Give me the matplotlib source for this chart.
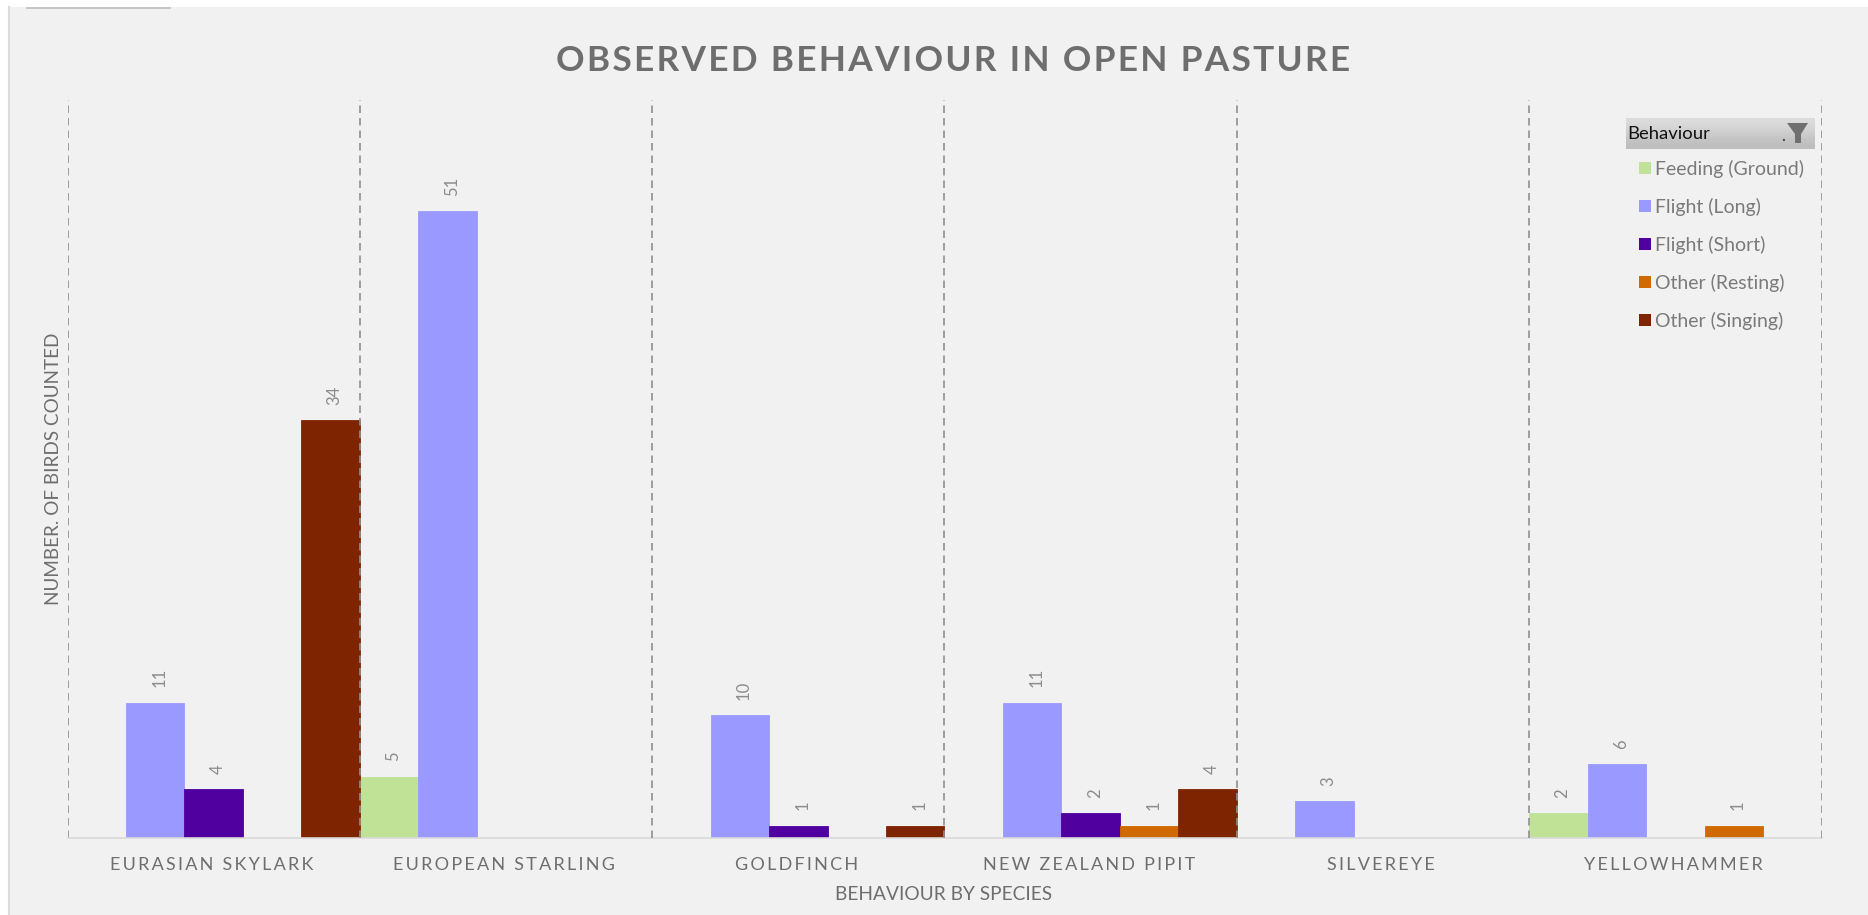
import matplotlib
matplotlib.use("Agg")
import matplotlib.pyplot as plt
from matplotlib.patches import Rectangle, Polygon
from matplotlib.transforms import ScaledTranslation

W, H = 1868, 915
SPECIES = ["EURASIAN SKYLARK", "EUROPEAN STARLING", "GOLDFINCH",
           "NEW ZEALAND PIPIT", "SILVEREYE", "YELLOWHAMMER"]
BEHAVIOURS = ["Feeding (Ground)", "Flight (Long)", "Flight (Short)",
              "Other (Resting)", "Other (Singing)"]
COLORS = ["#bfe296", "#9999ff", "#4f009f", "#d06a00", "#7e2500"]
# one list per behaviour, None = not observed
FEEDING = [None, 5, None, None, None, 2]
FLIGHT_LONG = [11, 51, 10, 11, 3, 6]
FLIGHT_SHORT = [4, None, 1, 2, None, None]
RESTING = [None, None, None, 1, None, 1]
SINGING = [34, None, 1, 4, None, None]
SERIES = [FEEDING, FLIGHT_LONG, FLIGHT_SHORT, RESTING, SINGING]

FONT = ["Lato", "DejaVu Sans"]
GREY = "#6e6e6e"
plt.rcParams["font.family"] = FONT


def spaced(s, gap="\u200a"):
    # matplotlib has no letter spacing, so pad with hair spaces
    return gap.join(s)


def px(x, y):
    return x / W, 1 - y / H


fig = plt.figure(figsize=(W / 100, H / 100), dpi=100, facecolor="white")

# panel behind the chart
fig.add_artist(Rectangle(px(9, H), (W - 9) / W, (H - 7) / H, transform=fig.transFigure,
                         fc="#f1f1f1", ec="none", zorder=-5))
fig.add_artist(plt.Line2D([9 / W, 9 / W], [0, 1 - 7 / H], color="#dcdcdc", lw=1.5, zorder=-4))
fig.add_artist(plt.Line2D([27 / W, 170 / W], [1 - 7.5 / H] * 2, color="#bdbdbd", lw=1.2, zorder=-4))

ax = fig.add_axes([67.5 / W, 1 - 838 / H, (1821.5 - 67.5) / W, (838 - 100.3) / H])
ax.patch.set_alpha(0)
ax.set_xlim(-0.5, 5.5)
ax.set_ylim(0, 60)

for k in range(7):
    ax.axvline(k - 0.5, color="#8f8f8f", lw=1.2, ls=(0, (4.5, 3)), zorder=3 if k else 1)

bar_w = 0.2
for i, (vals, col) in enumerate(zip(SERIES, COLORS)):
    for g, v in enumerate(vals):
        if v is None:
            continue
        x = g - 0.5 + bar_w * (i + 0.5)
        ax.bar(x, v, bar_w, color=col, edgecolor=col, linewidth=0.6, zorder=2)
        ax.annotate(str(v), (x, v), xytext=(3, 11), textcoords="offset points",
                    rotation=90, ha="center", va="bottom", fontsize=12, color="#8c8c8c")

for s in ["top", "left", "right"]:
    ax.spines[s].set_visible(False)
ax.spines["bottom"].set_color("#d9d9d9")
ax.spines["bottom"].set_linewidth(1.2)
ax.set_yticks([])
ax.set_xticks(range(6))
ax.set_xticklabels([spaced(s, "\u200a\u200a") for s in SPECIES], fontsize=13, color=GREY)
ax.tick_params(axis="x", length=0, pad=14)
nudge = ScaledTranslation(-2 / 100, 0, fig.dpi_scale_trans)
for lab in ax.get_xticklabels():
    lab.set_transform(lab.get_transform() + nudge)

fig.text(944 / W, 1 - 895 / H, "BEHAVIOUR BY SPECIES", ha="center", va="center",
         fontsize=13.8, color=GREY)
fig.text(54 / W, 1 - 469 / H, "NUMBER. OF BIRDS COUNTED", rotation=90, ha="center",
         va="center", fontsize=13.6, color=GREY)
fig.text(953 / W, 1 - 61 / H, spaced("OBSERVED BEHAVIOUR IN OPEN PASTURE"), ha="center",
         va="center", fontsize=25.4, fontweight="bold", color=GREY)

# slicer style legend, header first
grad_ax = fig.add_axes([1626 / W, 1 - 149 / H, 189 / W, 31 / H], zorder=-1)
grad_ax.imshow([[0.86], [0.8], [0.74]], cmap="gray", vmin=0, vmax=1, aspect="auto",
               interpolation="bicubic")
grad_ax.axis("off")
fig.text(1627 / W, 1 - 134 / H, "Behaviour", va="center", fontsize=13.3, color="#111111")
fig.text(1783 / W, 1 - 141 / H, ".", ha="center", va="baseline", fontsize=12, color="#333333")
fig.add_artist(Polygon([px(1787, 123), px(1808, 123), px(1801, 134), px(1801, 143),
                        px(1795, 143), px(1795, 134)], closed=True,
                       transform=fig.transFigure, fc="#6f6f6f", ec="none"))
for i, (name, col) in enumerate(zip(BEHAVIOURS, COLORS)):
    yc = 168 + i * 38
    fig.add_artist(Rectangle(px(1639, yc + 6), 12 / W, 12 / H, transform=fig.transFigure,
                             fc=col, ec="none"))
    fig.text(1655 / W, 1 - (yc + 1) / H, name, va="center", fontsize=14, color="#7a7a7a")

fig.savefig("out.png", dpi=100)
